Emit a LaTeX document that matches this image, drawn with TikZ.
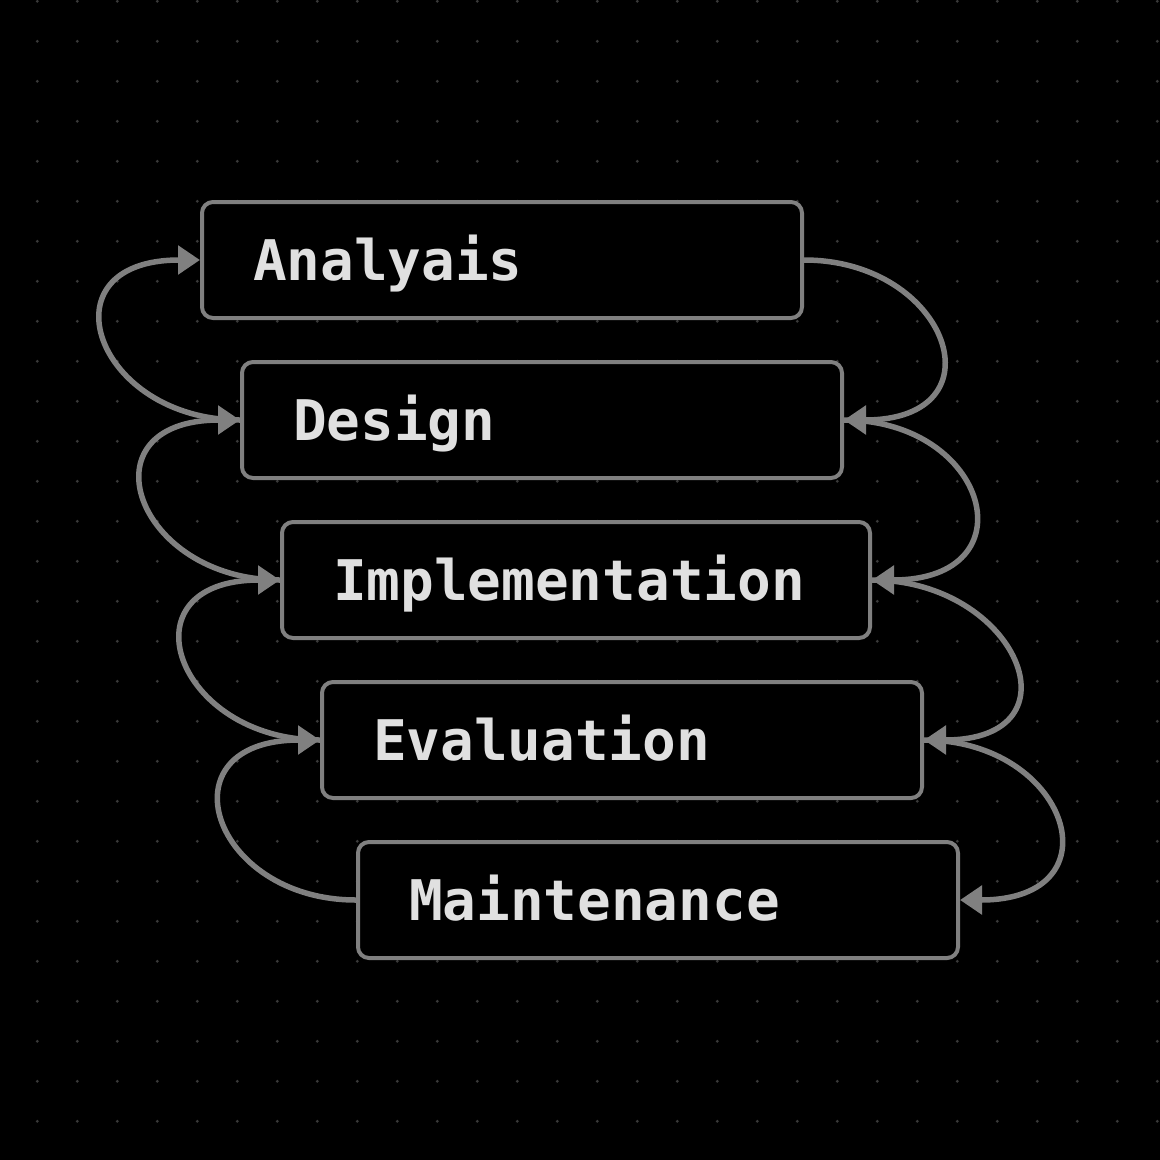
\documentclass[tikz,border=0pt]{standalone}
\usepackage{fontspec}
\setmonofont{DejaVu Sans Mono}
\usepackage{tikz}
\usetikzlibrary{arrows.meta, positioning}
\definecolor{edgegray}{RGB}{128,128,128}
\definecolor{labelgray}{RGB}{224,224,224}
\definecolor{dotgray}{RGB}{58,58,58}

\tikzset{
    phase/.style={draw=edgegray, line width=4pt, fill=black, rounded corners=11pt,
        minimum height=116pt, inner xsep=51pt, align=left, text=labelgray,
        font=\ttfamily\bfseries\fontsize{56}{60}\selectfont,
        text height=41pt, text depth=0pt},
    flow/.style={draw=edgegray, line width=5.5pt, -{Triangle[length=22pt,width=28pt]}}
}

\begin{document}
\begin{tikzpicture}[x=1pt, y=-1pt]
        \fill[black] (0,0) rectangle (1160,1160);
        \useasboundingbox (0,0) rectangle (1160,1160);
        \foreach \i in {0,...,28}
            \foreach \j in {0,...,28}
                \fill[dotgray] (37.3+40*\i, 1.3+40*\j) circle (1.6pt);

        \node[phase, text width=498pt] at (502,260) (ana) {Analyais};
        \node[phase, text width=498pt] at (542,420) (des) {Design};
        \node[phase, text width=486pt] at (576,580) (imp) {Implementation};
        \node[phase, text width=498pt] at (622,740) (eva) {Evaluation};
        \node[phase, text width=498pt] at (658,900) (mai) {Maintenance};

        % going down on the right
        \draw[flow] (ana.east) .. controls +(145,0) and +(160,0) .. (des.east);
        \draw[flow] (des.east) .. controls +(145,0) and +(160,0) .. (imp.east);
        \draw[flow] (imp.east) .. controls +(145,0) and +(160,0) .. (eva.east);
        \draw[flow] (eva.east) .. controls +(145,0) and +(160,0) .. (mai.east);

        % going back up on the left
        \draw[flow] (des.west) .. controls +(-145,0) and +(-160,0) .. (ana.west);
        \draw[flow] (imp.west) .. controls +(-145,0) and +(-160,0) .. (des.west);
        \draw[flow] (eva.west) .. controls +(-145,0) and +(-160,0) .. (imp.west);
        \draw[flow] (mai.west) .. controls +(-145,0) and +(-160,0) .. (eva.west);
\end{tikzpicture}
\end{document}
